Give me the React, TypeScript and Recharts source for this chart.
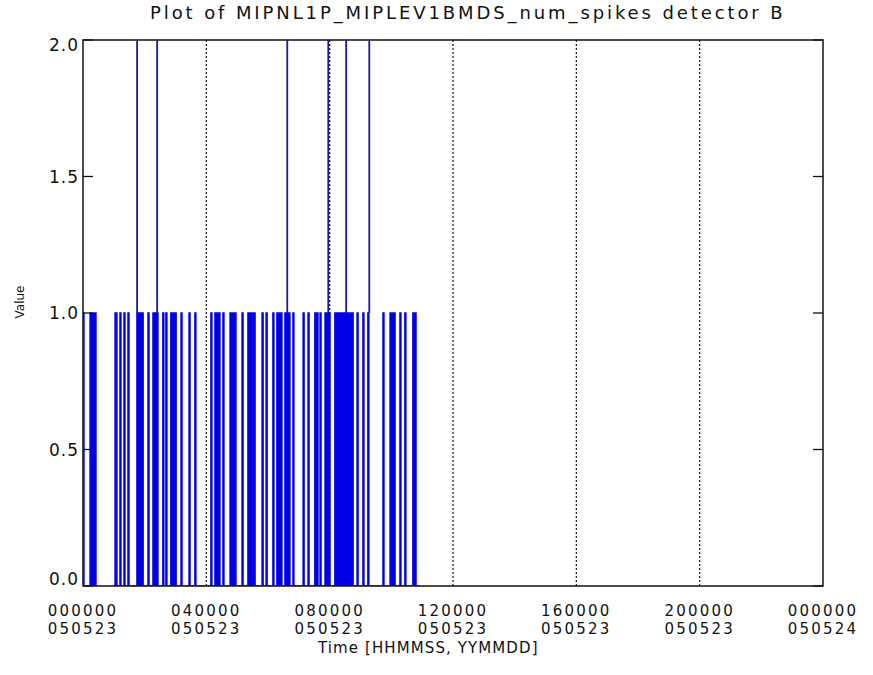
import React from "react"
import {
  ComposedChart,
  Area,
  Line,
  XAxis,
  YAxis,
  ReferenceLine,
  ReferenceArea,
} from "recharts"

// time in hours after 000000 050523
const pulseStart = [
  0.0, 0.23, 1.04, 1.2, 1.33, 1.46, 1.75, 2.11, 2.27, 2.59, 2.69, 2.85, 3.18, 3.44,
  3.63, 4.15, 4.28, 4.54, 4.77, 5.16, 5.35, 5.81, 5.94, 6.16, 6.29, 6.55, 6.81,
  7.14, 7.3, 7.52, 7.69, 7.85, 8.17, 8.89, 9.08, 9.24, 9.73, 9.96, 10.28, 10.44, 10.7,
]
const pulseEnd = [
  0.03, 0.42, 1.1, 1.23, 1.36, 1.49, 1.95, 2.14, 2.43, 2.62, 2.72, 3.02, 3.21, 3.47,
  3.66, 4.18, 4.44, 4.57, 4.96, 5.19, 5.58, 5.84, 5.97, 6.19, 6.45, 6.71, 6.84,
  7.17, 7.33, 7.62, 7.72, 8.01, 8.76, 8.92, 9.11, 9.27, 9.76, 10.12, 10.31, 10.47, 10.8,
]
// stretches of the record that hold data
const segStart = [0.0, 0.97]
const segEnd = [0.42, 10.93]
// short excursions up to 2 spikes
const spikeTimes = [1.75, 2.4, 6.62, 7.95, 8.53, 9.28]

const xTicks = [0, 4, 8, 12, 16, 20, 24]
const xTimeLabels = ["000000", "040000", "080000", "120000", "160000", "200000", "000000"]
const xDateLabels = ["050523", "050523", "050523", "050523", "050523", "050523", "050524"]
const yTicks = [0, 0.5, 1, 1.5, 2]
const gridHours = [4, 8, 12, 16, 20]

const BLUE = "#0000e6"
const PLOT_LEFT = 83
const PLOT_RIGHT = 823
const PLOT_BOTTOM = 586
const FONT = "'DejaVu Sans', sans-serif"

type Row = { t: number; v: number | null }

function buildTrace(): Row[] {
  const rows: Row[] = []
  segStart.forEach((s, k) => {
    const e = segEnd[k]
    rows.push({ t: s, v: 0 })
    pulseStart.forEach((ps, i) => {
      if (ps < s || ps > e) return
      rows.push({ t: ps, v: 0 }, { t: ps, v: 1 }, { t: pulseEnd[i], v: 1 }, { t: pulseEnd[i], v: 0 })
    })
    rows.push({ t: e, v: 0 }, { t: e + 0.01, v: null })
  })
  return rows
}

function buildSpikes(): Row[] {
  const rows: Row[] = []
  spikeTimes.forEach((t) => {
    rows.push({ t, v: 1 }, { t, v: 2 }, { t: t + 0.01, v: 2 }, { t: t + 0.01, v: 1 }, { t: t + 0.02, v: null })
  })
  return rows
}

const trace = buildTrace()
const spikes = buildSpikes()

function YTick(props: any) {
  const { y, payload } = props
  const v = payload.value as number
  const dy = v === 2 ? 11 : v === 0 ? -1 : 6
  return (
    <g>
      <line x1={PLOT_LEFT} x2={PLOT_LEFT + 10} y1={y} y2={y} stroke="#111" strokeWidth={1.3} />
      <line x1={PLOT_RIGHT - 10} x2={PLOT_RIGHT} y1={y} y2={y} stroke="#111" strokeWidth={1.3} />
      <text x={79} y={y + dy} textAnchor="end" fontFamily={FONT} fontSize={17} letterSpacing={1} fill="#111">
        {v.toFixed(1)}
      </text>
    </g>
  )
}

function XTick(props: any) {
  const { x, index } = props
  return (
    <g>
      <text x={x} y={PLOT_BOTTOM + 30} textAnchor="middle" fontFamily={FONT} fontSize={15} letterSpacing={2.2} fill="#111">
        {xTimeLabels[index]}
      </text>
      <text x={x} y={PLOT_BOTTOM + 48} textAnchor="middle" fontFamily={FONT} fontSize={15} letterSpacing={2.2} fill="#111">
        {xDateLabels[index]}
      </text>
    </g>
  )
}

export default function App() {
  return (
    <div style={{ position: "absolute", left: 0, top: 0, width: 873, height: 675, background: "#fff", fontFamily: FONT, color: "#111" }}>
      <div style={{ position: "absolute", left: 150, top: 2, fontSize: 18, letterSpacing: 2.9, whiteSpace: "nowrap" }}>
        Plot of MIPNL1P_MIPLEV1BMDS_num_spikes detector B
      </div>
      <ComposedChart width={873} height={675} margin={{ top: 40, right: 50, bottom: 29, left: 23 }}>
        <XAxis
          dataKey="t"
          type="number"
          domain={[0, 24]}
          ticks={xTicks}
          interval={0}
          height={60}
          axisLine={false}
          tickLine={false}
          tick={<XTick />}
          allowDataOverflow
        />
        <YAxis
          type="number"
          domain={[0, 2]}
          ticks={yTicks}
          width={60}
          axisLine={false}
          tickLine={false}
          tick={<YTick />}
          allowDataOverflow
        />
        <ReferenceArea x1={0} x2={24} y1={0} y2={2} fill="none" stroke="#111" strokeWidth={1.5} />
        <Area
          data={trace}
          dataKey="v"
          type="linear"
          stroke={BLUE}
          strokeWidth={1.5}
          fill={BLUE}
          fillOpacity={1}
          connectNulls={false}
          dot={false}
          activeDot={false}
          isAnimationActive={false}
        />
        <Line
          data={spikes}
          dataKey="v"
          type="linear"
          stroke="#1a1a9a"
          strokeWidth={1.5}
          connectNulls={false}
          dot={false}
          activeDot={false}
          isAnimationActive={false}
        />
        {gridHours.map((h) => (
          <ReferenceLine key={h} x={h} stroke="#111" strokeDasharray="2 2" strokeWidth={1.2} />
        ))}
      </ComposedChart>
      <div style={{ position: "absolute", left: 318, top: 641, fontSize: 15, lineHeight: 1, letterSpacing: 1.1, whiteSpace: "nowrap" }}>
        Time [HHMMSS, YYMMDD]
      </div>
      <div
        style={{
          position: "absolute",
          left: 20,
          top: 302,
          fontSize: 12,
          whiteSpace: "nowrap",
          transform: "translate(-50%, -50%) rotate(-90deg)",
        }}
      >
        Value
      </div>
    </div>
  )
}
